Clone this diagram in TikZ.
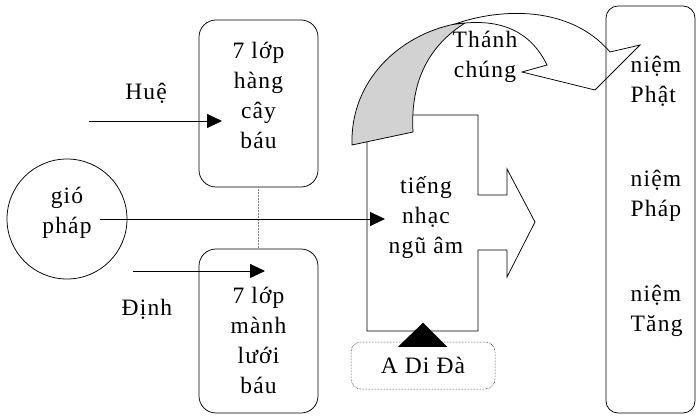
\documentclass[tikz,border=0pt]{standalone}
\usepackage{fontspec}
\setmainfont{Liberation Serif}[LetterSpace=5]
\usetikzlibrary{arrows.meta}

\begin{document}
\begin{tikzpicture}[x=1pt,y=-1pt,line width=0.75pt,
	every node/.style={font=\fontsize{23.5}{30}\selectfont,align=center},
	box/.style={draw,rounded corners=17pt,minimum width=119pt,inner sep=0pt},
	flow/.style={-{Triangle[length=15pt,width=14pt]}}]
	\useasboundingbox (0,0) rectangle (696,415);
	% left side
	\node[draw,circle,minimum size=120pt,inner sep=0pt] (wind) at (67,219){};
	\node (windtxt) at (67,213){gió\\pháp};
	\node (hue) at (146,93){Huệ};
	\node (dinh) at (147,309){Định};
	\node[box,minimum height=167pt] (trees) at (258.5,103.5){};
	\node (treestxt) at (258.5,95){7 lớp\\hàng\\cây\\báu};
	\node[box,minimum height=164pt] (mesh) at (258.5,331){};
	\node (meshtxt) at (258.5,340){7 lớp\\mành\\lưới\\báu};
	\draw[densely dotted,line width=0.5pt,gray] (trees) -- (mesh);
	\coordinate (huefrom) at (89,121);
	\coordinate (hueto) at (222,121);
	\coordinate (dinhfrom) at (133,271);
	\coordinate (dinhto) at (265,271);
	\draw[flow] (huefrom) -- (hueto);
	\draw[flow] (dinhfrom) -- (dinhto);
	% middle block arrow
	\draw (413,115) -- (478,115) -- (478,195) -- (507,195) -- (507,169) -- (535,222)
		-- (507,277) -- (507,250) -- (478,250) -- (478,331) -- (367,331) -- (367,115) -- cycle;
	\node (sound) at (426,218){tiếng\\nhạc\\ngũ âm};
	\coordinate (windfrom) at (100,219);
	\draw[flow] (windfrom) -- (windfrom -| sound.west);
	\node[draw,densely dotted,line width=0.5pt,rounded corners=10pt,minimum width=144pt,
		minimum height=47pt,inner sep=0pt] (adida) at (423,365.5){A Di Đà};
	\fill ([xshift=-25pt,yshift=-5pt]adida.north) -- ([yshift=19pt]adida.north)
		-- ([xshift=24pt,yshift=-5pt]adida.north) -- cycle;
	% curved arrow
	\filldraw[fill=gray!35] (352,145) .. controls (350,80) and (400,35) .. (455,24) -- (465,23)
		.. controls (430,45) and (410,80) .. (413,132) -- cycle;
	\filldraw[fill=white] (455,24) .. controls (500,8) and (570,5) .. (610,52) -- (640,45)
		-- (595,90) -- (522,72) -- (547,65) .. controls (530,30) and (500,20) .. (465,23) -- cycle;
	\node (saints) at (485,57){Thánh\\chúng};
	% right side
	\node[draw,rounded corners=12pt,minimum width=89pt,minimum height=407pt,inner sep=0pt] (mind) at (650.5,209.5){};
	\node[align=left,anchor=west] (buddha) at (627,81){niệm\\Phật};
	\node[align=left,anchor=west] (dharma) at (627,196){niệm\\Pháp};
	\node[align=left,anchor=west] (sangha) at (627,311){niệm\\Tăng};
\end{tikzpicture}
\end{document}
